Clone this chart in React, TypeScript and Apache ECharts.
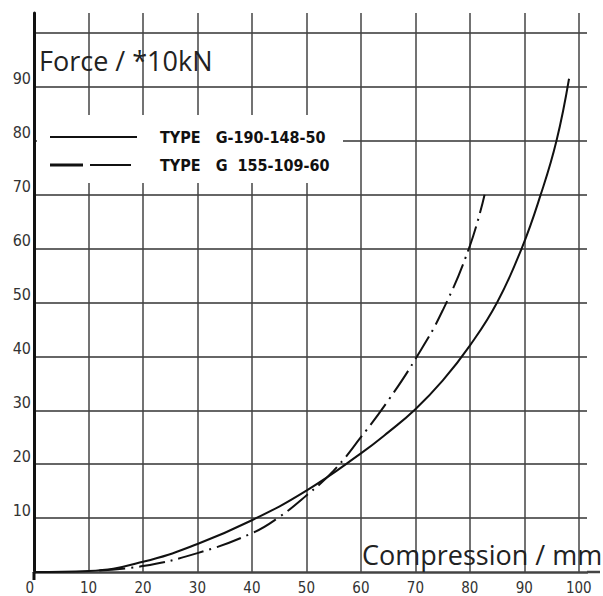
import React, { useEffect, useRef } from "react";
import * as echarts from "echarts";

// Series: TYPE G-190-148-50 (solid)
const solidX = [0, 10, 20, 30, 40, 50, 60, 65, 70, 75, 80, 85, 89.5, 93, 95.9, 98.2];
const solidY = [0, 0.2, 1.9, 5.2, 9.6, 15.1, 22, 25.9, 30.2, 35.5, 42, 50, 60, 70, 80, 91.5];
// Series: TYPE G 155-109-60 (dash-dot)
const dashX = [12, 20, 30, 40, 45, 50, 55, 60, 65, 70, 75, 80, 82.7];
const dashY = [0.3, 1.1, 3.5, 7.2, 10.2, 14.2, 18.8, 25, 31.8, 39.5, 48.5, 60.5, 70];

const seriesNames = ["TYPE   G-190-148-50", "TYPE   G  155-109-60"];
const xTicks = [0, 10, 20, 30, 40, 50, 60, 70, 80, 90, 100];
const yTicks = [10, 20, 30, 40, 50, 60, 70, 80, 90];

const X_MAX = 101.5;
const Y_MAX = 103.7;
const COND = "'DejaVu Sans Condensed', 'Liberation Sans Narrow', sans-serif";
const SANS = "'Open Sans', 'Noto Sans', sans-serif";

export default function App() {
  const ref = useRef<HTMLDivElement>(null);
  useEffect(() => {
    if (!ref.current) return;
    const chart = echarts.init(ref.current, null, { renderer: "svg" });
    const pair = (xs: number[], ys: number[]) => xs.map((x, i) => [x, ys[i]]);
    chart.setOption({
      animation: false,
      backgroundColor: "#ffffff",
      grid: { left: 34, right: 16, top: 13, bottom: 24 },
      xAxis: {
        type: "value",
        min: 0,
        max: X_MAX,
        interval: 10,
        axisLine: { show: true, onZero: false, lineStyle: { color: "#444", width: 2.5 } },
        axisTick: { show: false },
        splitLine: { show: true, showMinLine: false, showMaxLine: false, lineStyle: { color: "#444", width: 1.5 } },
        axisLabel: {
          margin: 8,
          color: "#333",
          fontFamily: COND,
          fontSize: 15,
          showMaxLabel: false,
          alignMinLabel: "right",
          formatter: (v: number) => (xTicks.includes(v) ? String(v) : ""),
        },
      },
      yAxis: {
        type: "value",
        min: 0,
        max: Y_MAX,
        interval: 10,
        axisLine: { show: true, onZero: false, lineStyle: { color: "#111", width: 3 } },
        axisTick: { show: false },
        splitLine: { show: true, showMinLine: false, showMaxLine: false, lineStyle: { color: "#666", width: 1.8 } },
        axisLabel: {
          margin: 3,
          color: "#333",
          fontFamily: COND,
          fontSize: 16,
          verticalAlign: "bottom",
          showMaxLabel: false,
          formatter: (v: number) => (yTicks.includes(v) ? String(v) : ""),
        },
      },
      series: [
        {
          name: seriesNames[0],
          type: "line",
          data: pair(solidX, solidY),
          smooth: 0.45,
          showSymbol: false,
          symbol: "none",
          lineStyle: { color: "#111", width: 2 },
          z: 5,
        },
        {
          name: seriesNames[1],
          type: "line",
          data: pair(dashX, dashY),
          smooth: 0.45,
          showSymbol: false,
          symbol: "none",
          lineStyle: { color: "#111", width: 2, type: [26, 6, 2, 6] },
          z: 5,
        },
      ],
      graphic: [
        { type: "rect", z: 3, shape: { x: 37, y: 115, width: 306, height: 68 }, style: { fill: "#ffffff" } },
        { type: "line", z: 4, shape: { x1: 50, y1: 137, x2: 137, y2: 137 }, style: { stroke: "#111", lineWidth: 2 } },
        { type: "line", z: 4, shape: { x1: 50, y1: 165, x2: 83, y2: 165 }, style: { stroke: "#111", lineWidth: 3 } },
        { type: "line", z: 4, shape: { x1: 90, y1: 165, x2: 131, y2: 165 }, style: { stroke: "#111", lineWidth: 2 } },
        {
          type: "text", z: 4, x: 160, y: 137,
          style: { text: seriesNames[0], fill: "#111", font: `bold 16px ${COND}`, verticalAlign: "middle" },
        },
        {
          type: "text", z: 4, x: 160, y: 165,
          style: { text: seriesNames[1], fill: "#111", font: `bold 16px ${COND}`, verticalAlign: "middle" },
        },
        { type: "line", z: 4, shape: { x1: 34, y1: 572, x2: 34, y2: 580 }, style: { stroke: "#111", lineWidth: 3 } },
        { type: "line", z: 4, shape: { x1: 587, y1: 572, x2: 600, y2: 572 }, style: { stroke: "#444", lineWidth: 2.5 } },
        {
          type: "text", z: 4, x: 39, y: 60,
          style: { text: "Force / *10kN", fill: "#222", font: `27px ${SANS}`, verticalAlign: "middle" },
        },
        {
          type: "text", z: 4, x: 362, y: 554,
          style: { text: "Compression / mm", fill: "#222", font: `27px ${SANS}`, verticalAlign: "middle" },
        },
      ],
    });
    return () => chart.dispose();
  }, []);
  return <div ref={ref} style={{ width: 603, height: 596, position: "absolute", left: 0, top: 0 }} />;
}
